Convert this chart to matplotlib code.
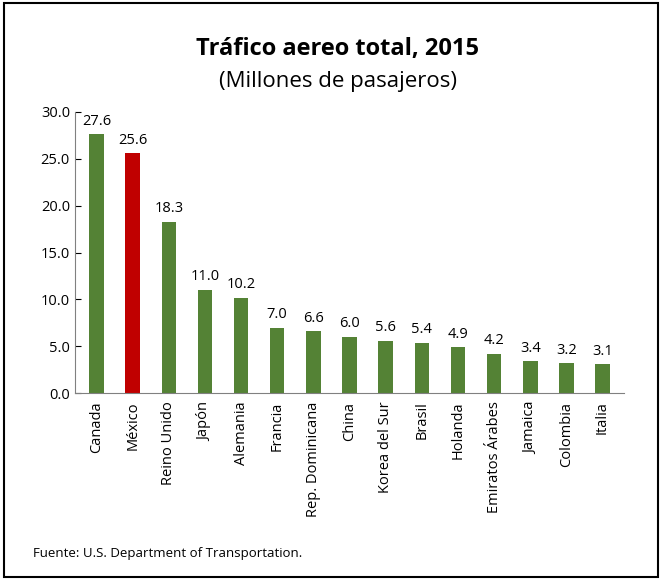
import matplotlib
matplotlib.use("Agg")
import matplotlib.pyplot as plt
from matplotlib.patches import Rectangle

countries = ["Canada", "México", "Reino Unido", "Japón", "Alemania", "Francia",
             "Rep. Dominicana", "China", "Korea del Sur", "Brasil", "Holanda",
             "Emiratos Árabes", "Jamaica", "Colombia", "Italia"]
values = [27.6, 25.6, 18.3, 11.0, 10.2, 7.0, 6.6, 6.0, 5.6, 5.4, 4.9, 4.2, 3.4, 3.2, 3.1]
highlight = "México"

plt.rcParams['font.family'] = ['Open Sans', 'DejaVu Sans']
fig = plt.figure(figsize=(6.62, 5.8), dpi=100)
fig.patches.append(Rectangle((0.006, 0.006), 0.988, 0.988, transform=fig.transFigure,
                             fill=False, edgecolor='black', linewidth=1.5))
ax = fig.add_axes([0.113, 0.322, 0.83, 0.485])
colors = ["#C00000" if c == highlight else "#548235" for c in countries]
x = range(len(countries))
ax.bar(x, values, width=0.4, color=colors)
for i, v in zip(x, values):
    ax.text(i, v + 0.6, f"{v:.1f}", ha='center', va='bottom', fontsize=10.5)
ax.set_ylim(0, 30)
ax.set_xlim(-0.6, len(countries) - 0.4)
ax.set_yticks([0, 5, 10, 15, 20, 25, 30])
ax.set_yticklabels([f"{t:.1f}" for t in [0, 5, 10, 15, 20, 25, 30]], fontsize=10.5)
ax.set_xticks(list(x))
ax.set_xticklabels(countries, rotation=90, fontsize=10.5)
ax.tick_params(axis='x', length=0, pad=6)
ax.tick_params(axis='y', direction='in', length=4)
for s in ['top', 'right']:
    ax.spines[s].set_visible(False)
ax.spines['left'].set_color('#808080')
ax.spines['bottom'].set_color('#808080')
fig.text(0.51, 0.905, "Tráfico aereo total, 2015", ha='center', fontsize=17, fontweight='bold')
fig.text(0.51, 0.85, "(Millones de pasajeros)", ha='center', fontsize=16)
fig.text(0.05, 0.04, "Fuente: U.S. Department of Transportation.", fontsize=9.5)
fig.savefig("out.png", dpi=100)
